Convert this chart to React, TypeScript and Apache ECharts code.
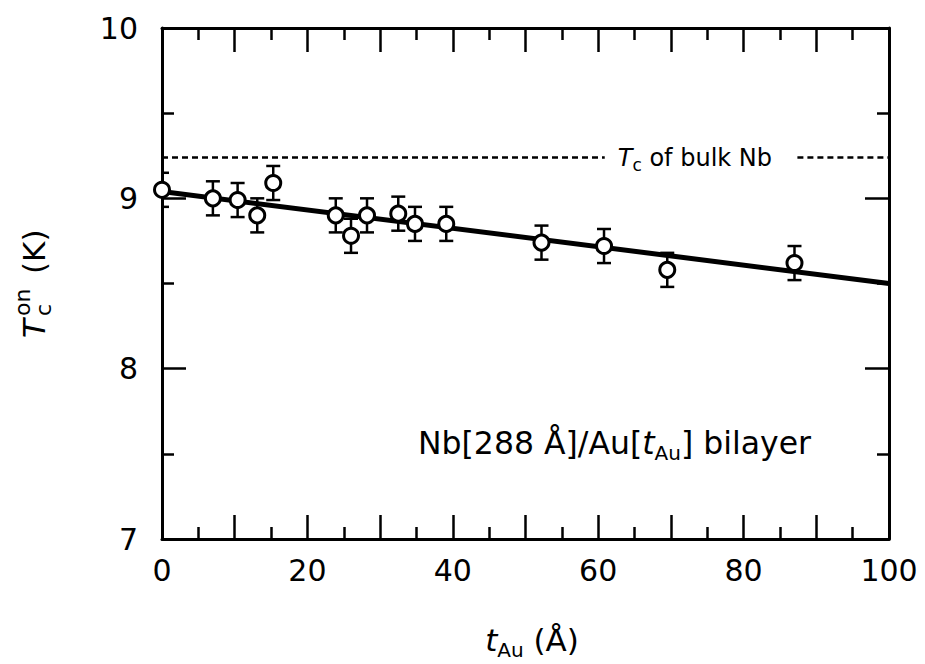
import React, { useEffect, useRef } from "react";
import * as echarts from "echarts";

// Au thickness (Å)
const tAu = [0, 7.0, 10.4, 13.1, 15.3, 23.9, 26.0, 28.2, 32.5, 34.8, 39.1, 52.2, 60.8, 69.5, 87.0];
// onset Tc (K)
const tcOn = [9.05, 9.0, 8.99, 8.9, 9.09, 8.9, 8.78, 8.9, 8.91, 8.85, 8.85, 8.74, 8.72, 8.58, 8.62];
// error bars (K)
const tcErr = [0.1, 0.1, 0.1, 0.1, 0.1, 0.1, 0.1, 0.1, 0.1, 0.1, 0.1, 0.1, 0.1, 0.1, 0.1];
// linear fit
const fitX = [0, 100];
const fitY = [9.04, 8.5];
// Tc of bulk Nb (dashed line, broken around its label)
const bulkTc = 9.24;
const bulkSegLeft = [0, 60.9];
const bulkSegRight = [87.4, 100];
const bulkLabelX = 73.3;
const xTicks = [0, 20, 40, 60, 80, 100];
const yTicks = [7, 8, 9, 10];

const FONT = "'DejaVu Sans', Verdana, sans-serif";

export default function App() {
  const ref = useRef<HTMLDivElement>(null);
  useEffect(() => {
    if (!ref.current) return;
    const chart = echarts.init(ref.current, null, { renderer: "svg" });
    const tickStyle = { color: "#000", width: 2.5 };
    const mkX = (pos: "bottom" | "top") => ({
      type: "value",
      position: pos,
      min: 0,
      max: 100,
      interval: 10,
      axisLine: { show: true, onZero: false, lineStyle: { color: "#000", width: 3 } },
      axisTick: { show: true, inside: true, length: 24, lineStyle: tickStyle },
      minorTick: { show: true, splitNumber: 2, length: 12, lineStyle: tickStyle },
      splitLine: { show: false },
      minorSplitLine: { show: false },
      axisLabel: {
        show: pos === "bottom",
        formatter: (v: number) => (xTicks.includes(v) ? String(v) : ""),
        fontSize: 30,
        fontFamily: FONT,
        color: "#000",
        margin: 16,
      },
    });
    const mkY = (pos: "left" | "right") => ({
      type: "value",
      position: pos,
      min: 7,
      max: 10,
      interval: 1,
      axisLine: { show: true, onZero: false, lineStyle: { color: "#000", width: 3 } },
      axisTick: { show: true, inside: true, length: 24, lineStyle: tickStyle },
      minorTick: { show: true, splitNumber: 2, length: 12, lineStyle: tickStyle },
      splitLine: { show: false },
      minorSplitLine: { show: false },
      axisLabel: {
        show: pos === "left",
        formatter: (v: number) => (yTicks.includes(v) ? String(v) : ""),
        fontSize: 30,
        fontFamily: FONT,
        color: "#000",
        margin: 24,
      },
    });
    const dashed = { color: "#000", width: 2.5, type: [6, 4] };

    const option: any = {
      animation: false,
      backgroundColor: "#fff",
      grid: { left: 162, right: 36, top: 28, bottom: 125, containLabel: false },
      xAxis: [mkX("bottom"), mkX("top")],
      yAxis: [mkY("left"), mkY("right")],
      series: [
        {
          type: "line",
          data: bulkSegLeft.map((x) => [x, bulkTc]),
          symbol: "none",
          lineStyle: dashed,
          z: 1,
          silent: true,
        },
        {
          type: "line",
          data: bulkSegRight.map((x) => [x, bulkTc]),
          symbol: "none",
          lineStyle: dashed,
          z: 1,
          silent: true,
        },
        {
          type: "custom",
          clip: true,
          data: tAu.map((x, i) => [x, tcOn[i], tcErr[i]]),
          encode: { x: 0, y: 1 },
          z: 2,
          renderItem: (params: any, api: any) => {
            const x = api.value(0);
            const y = api.value(1);
            const e = api.value(2);
            const p1 = api.coord([x, y + e]);
            const p2 = api.coord([x, y - e]);
            const hw = 7;
            const st = { stroke: "#000", lineWidth: 2.5 };
            return {
              type: "group",
              children: [
                { type: "line", shape: { x1: p1[0], y1: p1[1], x2: p2[0], y2: p2[1] }, style: st },
                { type: "line", shape: { x1: p1[0] - hw, y1: p1[1], x2: p1[0] + hw, y2: p1[1] }, style: st },
                { type: "line", shape: { x1: p2[0] - hw, y1: p2[1], x2: p2[0] + hw, y2: p2[1] }, style: st },
              ],
            };
          },
        },
        {
          type: "line",
          data: fitX.map((x, i) => [x, fitY[i]]),
          symbol: "none",
          lineStyle: { color: "#000", width: 5 },
          z: 3,
        },
        {
          type: "scatter",
          data: tAu.map((x, i) => [x, tcOn[i]]),
          symbol: "circle",
          symbolSize: 15,
          itemStyle: { color: "#fff", borderColor: "#000", borderWidth: 3, opacity: 1 },
          z: 5,
        },
      ],
      graphic: [
        {
          type: "text",
          x: 418,
          y: 443,
          style: {
            text: "{n|Nb[288 Å]/Au[}{it|t}{sub|Au}{n|] bilayer}",
            align: "left",
            verticalAlign: "middle",
            rich: {
              n: { fontSize: 31.5, fontFamily: FONT, fill: "#000", lineHeight: 40 },
              it: { fontSize: 31.5, fontFamily: FONT, fontStyle: "italic", fill: "#000", lineHeight: 40 },
              sub: { fontSize: 20, fontFamily: FONT, fill: "#000", lineHeight: 16, verticalAlign: "bottom" },
            },
          },
        },
        {
          type: "text",
          x: 532,
          y: 640,
          style: {
            text: "{it|t}{sub|Au}{n| (Å)}",
            align: "center",
            verticalAlign: "middle",
            rich: {
              n: { fontSize: 31, fontFamily: FONT, fill: "#000", lineHeight: 40 },
              it: { fontSize: 31, fontFamily: FONT, fontStyle: "italic", fill: "#000", lineHeight: 40 },
              sub: { fontSize: 20, fontFamily: FONT, fill: "#000", lineHeight: 16, verticalAlign: "bottom" },
            },
          },
        },
        {
          type: "group",
          x: 34,
          y: 338,
          rotation: Math.PI / 2,
          children: [
            {
              type: "text",
              x: 0,
              y: 0,
              style: { text: "T", fontSize: 31, fontFamily: FONT, fontStyle: "italic", fill: "#000", align: "left", verticalAlign: "middle" },
            },
            {
              type: "text",
              x: 22,
              y: -12,
              style: { text: "on", fontSize: 22, fontFamily: FONT, fill: "#000", align: "left", verticalAlign: "middle" },
            },
            {
              type: "text",
              x: 22,
              y: 9,
              style: { text: "c", fontSize: 22, fontFamily: FONT, fill: "#000", align: "left", verticalAlign: "middle" },
            },
            {
              type: "text",
              x: 64,
              y: 0,
              style: { text: "(K)", fontSize: 31, fontFamily: FONT, fill: "#000", align: "left", verticalAlign: "middle" },
            },
          ],
        },
      ],
    };
    chart.setOption(option);
    const p = chart.convertToPixel({ gridIndex: 0 }, [bulkLabelX, bulkTc]) as number[];
    chart.setOption({
      graphic: [
        {
          id: "bulkLabel",
          type: "text",
          x: p[0],
          y: p[1] + 1,
          z: 10,
          style: {
            text: "{it|T}{sub|c}{n| of bulk Nb}",
            align: "center",
            verticalAlign: "middle",
            rich: {
              it: { fontSize: 24, fontFamily: FONT, fontStyle: "italic", fill: "#000", lineHeight: 30 },
              sub: { fontSize: 17, fontFamily: FONT, fill: "#000", lineHeight: 12, verticalAlign: "bottom" },
              n: { fontSize: 24, fontFamily: FONT, fill: "#000", lineHeight: 30 },
            },
          },
        },
      ],
    });
    return () => chart.dispose();
  }, []);
  return (
    <div
      ref={ref}
      style={{ position: "fixed", left: 0, top: 0, width: 925, height: 664, background: "#fff" }}
    />
  );
}
